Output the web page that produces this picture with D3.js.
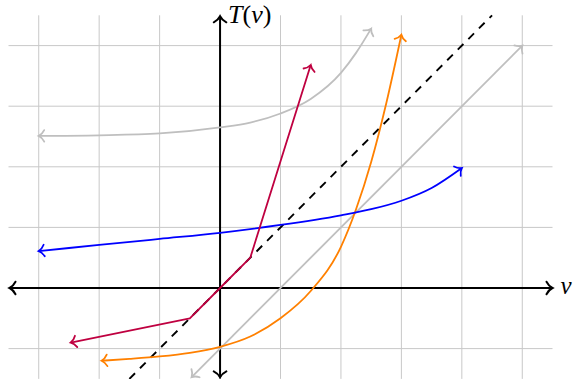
<!DOCTYPE html>
<html lang="en">
<head>
<meta charset="UTF-8">
<title>T(v)</title>
<script src="https://cdn.jsdelivr.net/npm/d3@7"></script>
<style>
  html, body { margin: 0; padding: 0; background: #fff; }
  svg { display: block; }
</style>
</head>
<body>
<div id="chart"></div>
<script>
    // values
    const xTicks = [-3, -2, -1, 0, 1, 2, 3, 4, 5];
    const yTicks = [-1, 0, 1, 2, 3, 4];

    const identityLine = [[-1.5, -1.5], [4.5, 4.5]];
    const shiftedLine = [[-0.47, -1.47], [5, 4]];
    const grayCurve = [[-3, 2.51], [-2, 2.52], [-1, 2.55], [0, 2.65], [0.5, 2.73], [1, 2.88],
        [1.5, 3.12], [2, 3.55], [2.25, 3.88], [2.5, 4.28]];
    const orangeCurve = [[-1.96, -1.2], [-1.5, -1.17], [-1, -1.13], [-0.5, -1.07], [0, -0.97],
        [0.5, -0.8], [1, -0.5], [1.5, -0.05], [2, 0.68], [2.25, 1.3], [2.5, 2.08], [2.75, 3.05], [3, 4.18]];
    const blueCurve = [[-3, 0.61], [-2, 0.71], [-1, 0.81], [0, 0.91], [1, 1.04], [2, 1.2],
        [2.5, 1.3], [3, 1.44], [3.5, 1.65], [4, 1.98]];
    const purpleLine = [[-2.47, -0.9], [-0.5, -0.5], [0, 0], [0.5, 0.5], [1.5, 3.68]];

    const width = 573, height = 379;

    const x = d3.scaleLinear().domain([-3.5, 5.5]).range([8.5, 552.5]);
    const y = d3.scaleLinear().domain([-1.5, 4.5]).range([378.9, 15.3]);

    const svg = d3.select("#chart").append("svg")
        .attr("width", width)
        .attr("height", height)
        .attr("viewBox", [0, 0, width, height]);

    // open "to" style arrow heads, one per colour
    const defs = svg.append("defs");
    function arrow(id, color, s, w) {
        defs.append("marker")
            .attr("id", id)
            .attr("markerUnits", "userSpaceOnUse")
            .attr("markerWidth", 20).attr("markerHeight", 20)
            .attr("refX", 0).attr("refY", 0)
            .attr("orient", "auto-start-reverse")
            .attr("overflow", "visible")
            .append("path")
            .attr("d", `M${-s},${-s * 1.05} C${-s * 0.7},${-s * 0.45} ${-s * 0.25},${-s * 0.12} 0,0 C${-s * 0.25},${s * 0.12} ${-s * 0.7},${s * 0.45} ${-s},${s * 1.05}`)
            .attr("fill", "none")
            .attr("stroke", color)
            .attr("stroke-width", w)
            .attr("stroke-linecap", "round");
    }
    arrow("a-black", "#000", 6, 2);
    arrow("a-gray", "#bfbfbf", 5.5, 1.8);
    arrow("a-orange", "#ff8000", 5.5, 1.8);
    arrow("a-blue", "#0000ff", 5.5, 1.8);
    arrow("a-purple", "#bf0040", 5.5, 1.8);

    // grid
    const grid = svg.append("g").attr("stroke", "#c8c8c8").attr("stroke-width", 1);
    grid.selectAll("line.v").data(xTicks).join("line")
        .attr("class", "v")
        .attr("x1", d => x(d)).attr("x2", d => x(d))
        .attr("y1", y(4.5)).attr("y2", y(-1.5));
    grid.selectAll("line.h").data(yTicks.filter(d => d !== 0)).join("line")
        .attr("class", "h")
        .attr("x1", x(-3.5)).attr("x2", x(5.5))
        .attr("y1", d => y(d)).attr("y2", d => y(d));

    // axes
    svg.append("line")
        .attr("x1", x(-3.5) + 1).attr("x2", x(5.5))
        .attr("y1", y(0)).attr("y2", y(0))
        .attr("stroke", "#000").attr("stroke-width", 2)
        .attr("marker-start", "url(#a-black)")
        .attr("marker-end", "url(#a-black)");
    svg.append("line")
        .attr("x1", x(0)).attr("x2", x(0))
        .attr("y1", y(-1.5) - 1.5).attr("y2", y(4.5) + 1)
        .attr("stroke", "#000").attr("stroke-width", 2)
        .attr("marker-start", "url(#a-black)")
        .attr("marker-end", "url(#a-black)");

    const font = "'Liberation Serif', 'DejaVu Serif', serif";
    const tLabel = svg.append("text")
        .attr("x", x(0) + 8).attr("y", y(4.5) + 8)
        .attr("font-family", font)
        .attr("font-size", 26);
    tLabel.append("tspan").attr("font-style", "italic").text("T");
    tLabel.append("tspan").text("(");
    tLabel.append("tspan").attr("font-style", "italic").text("v");
    tLabel.append("tspan").text(")");

    svg.append("text")
        .attr("x", x(5.5) + 8).attr("y", y(0) + 6)
        .attr("font-family", font)
        .attr("font-style", "italic")
        .attr("font-size", 25)
        .text("v");

    const line = d3.line().x(d => x(d[0])).y(d => y(d[1]));
    const smooth = d3.line().x(d => x(d[0])).y(d => y(d[1])).curve(d3.curveMonotoneX);

    svg.append("path")
        .attr("d", line(identityLine))
        .attr("fill", "none")
        .attr("stroke", "#000")
        .attr("stroke-width", 1.9)
        .attr("stroke-dasharray", "8,7");

    function draw(data, gen, color, id) {
        svg.append("path")
            .attr("d", gen(data))
            .attr("fill", "none")
            .attr("stroke", color)
            .attr("stroke-width", 1.8)
            .attr("stroke-linejoin", "round")
            .attr("marker-start", `url(#${id})`)
            .attr("marker-end", `url(#${id})`);
    }

    draw(shiftedLine, line, "#bfbfbf", "a-gray");
    draw(grayCurve, smooth, "#bfbfbf", "a-gray");
    draw(orangeCurve, smooth, "#ff8000", "a-orange");
    draw(blueCurve, smooth, "#0000ff", "a-blue");
    draw(purpleLine, line, "#bf0040", "a-purple");
</script>
</body>
</html>
